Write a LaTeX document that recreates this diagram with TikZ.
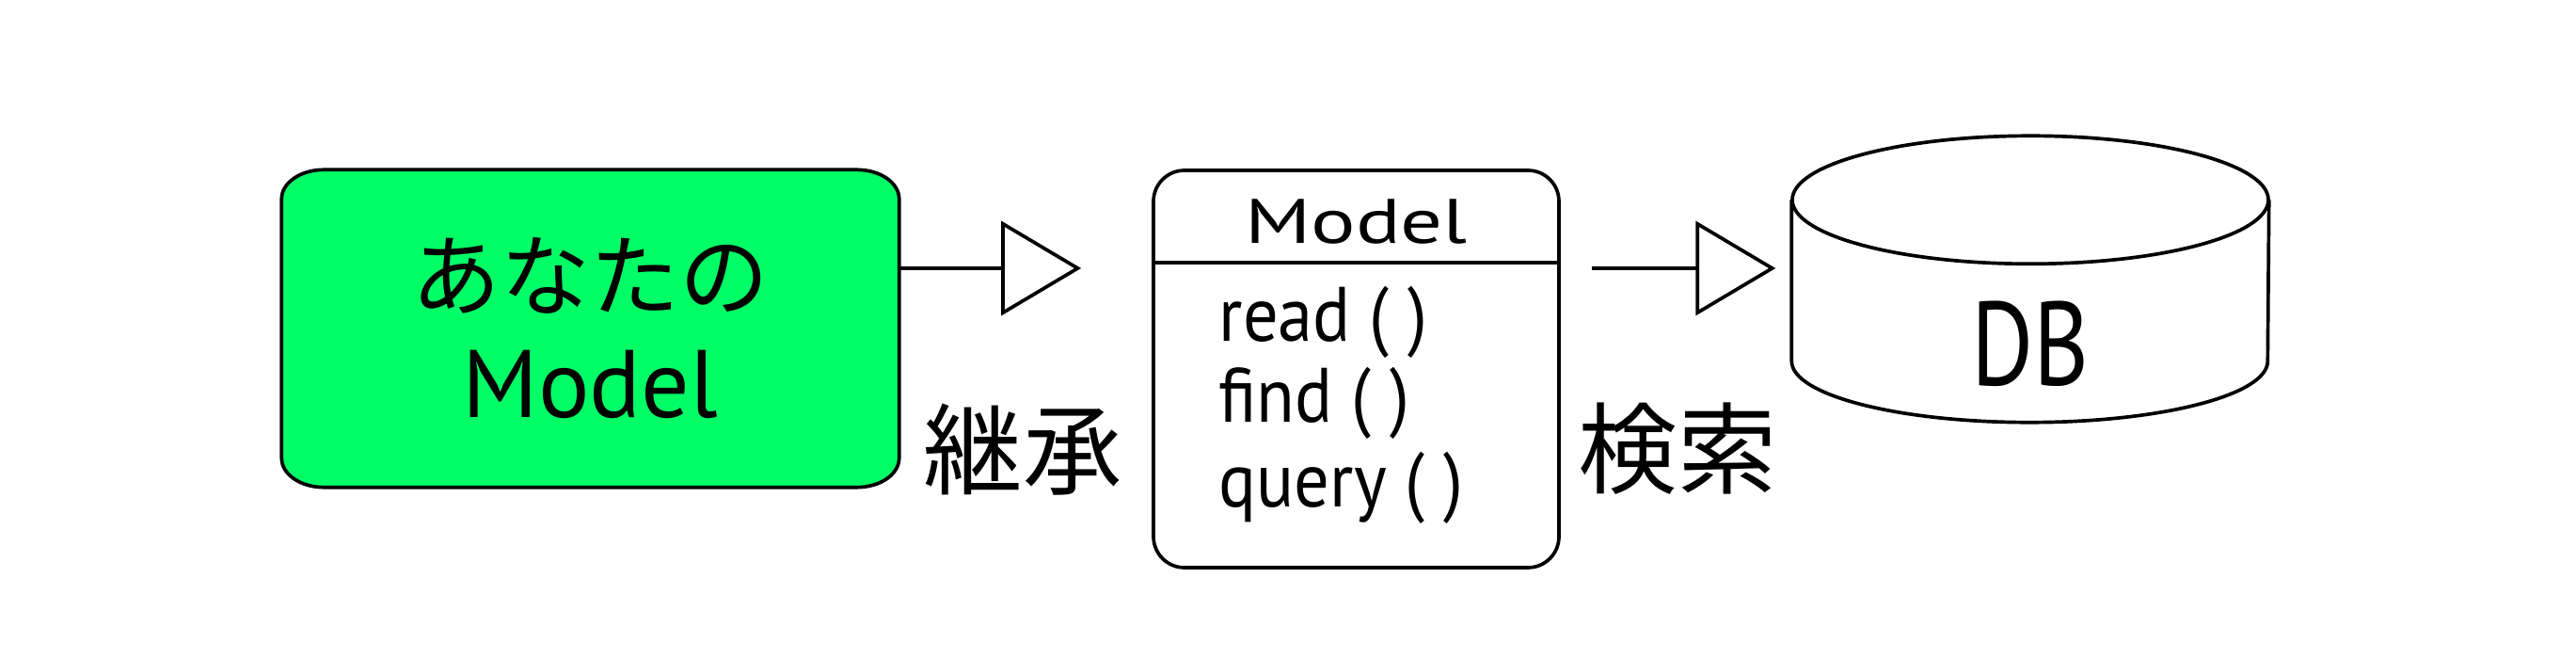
\documentclass[tikz,border=0pt]{standalone}
\usepackage{fontspec}
\setmainfont{PT Sans}
\newfontfamily\jpfont{Noto Sans CJK JP}
\newfontfamily\widefont[FakeStretch=1.33]{PT Sans}
\newfontfamily\methodfont[FakeStretch=0.91]{PT Sans}
\newfontfamily\narrowfont[FakeStretch=0.8]{PT Sans}
\usetikzlibrary{arrows.meta,positioning,calc,backgrounds}
\definecolor{Lime}{HTML}{00FF66}
\definecolor{Ink}{HTML}{000000}
\tikzset{
  outline/.style={draw=Ink,line width=1.05pt},
  frame/.style={inner sep=0pt,align=center},
  openarrow/.style={-{Triangle[open,length=0.85cm,width=1cm]},line width=1.05pt,draw=Ink},
  method/.style={anchor=base west,inner sep=0pt,font=\methodfont\fontsize{23.3pt}{23.3pt}\selectfont},
  jplabel/.style={inner sep=0pt,font=\jpfont\fontsize{30pt}{30pt}\selectfont}
}
\begin{document}
\begin{tikzpicture}
  \begin{scope}[on background layer]
    \fill[white] (0,0) rectangle (27.38,6.98);
  \end{scope}
  \useasboundingbox (0,0) rectangle (27.38,6.98);
  \coordinate (axis) at (0,4.13);

  % your model
  \node[frame,minimum width=6.55cm,minimum height=3.36cm,
        font=\fontsize{29pt}{32.7pt}\selectfont] (yours) at (6.275,3.49)
    {{\jpfont\fontsize{27pt}{27pt}\selectfont あなたの}\\Model};
  \begin{scope}[on background layer]
    \draw[outline,fill=Lime] ($(yours.north west)+(0.45,0)$)
      -- ($(yours.north east)+(-0.45,0)$)
      arc[start angle=90,end angle=0,x radius=0.45,y radius=0.31]
      -- ($(yours.south east)+(0,0.31)$)
      arc[start angle=0,end angle=-90,x radius=0.45,y radius=0.31]
      -- ($(yours.south west)+(0.45,0)$)
      arc[start angle=270,end angle=180,x radius=0.45,y radius=0.31]
      -- ($(yours.north west)+(0,-0.31)$)
      arc[start angle=180,end angle=90,x radius=0.45,y radius=0.31]
      -- cycle;
  \end{scope}

  % base class
  \node[outline,rounded corners=0.33cm,minimum width=4.31cm,
        minimum height=4.22cm] (model) at (14.415,3.06) {};
  \draw[outline] ($(model.north west)+(0,-1.0)$) -- ($(model.north east)+(0,-1.0)$);
  \node[anchor=base,inner sep=0pt,font=\widefont\fontsize{19pt}{19pt}\selectfont]
    (title) at ($(model.north)+(0,-0.79)$) {Model};
  \foreach \m/\y in {read/3.36,find/2.49,query/1.60}
    \node[method] (\m) at (12.95,\y) {\m\ ( )};

  % database
  \node[inner sep=0pt,minimum width=5.06cm,minimum height=3.03cm] (db) at (21.58,4.015) {};
  \draw[outline] ($(db.north west)+(0,-0.68)$) -- ($(db.south west)+(0,0.65)$)
    arc[start angle=180,end angle=360,x radius=2.53,y radius=0.65]
    -- ($(db.north east)+(0,-0.68)$);
  \draw[outline] ($(db.north)+(0,-0.68)$) ellipse[x radius=2.53,y radius=0.68];
  \node[inner sep=0pt,font=\narrowfont\fontsize{36pt}{36pt}\selectfont]
    (dbname) at ($(db.center)+(0,-0.685)$) {DB};

  % connectors
  \draw[openarrow,shorten >=0.75cm] (yours.east |- axis) -- (model.west |- axis);
  \draw[openarrow,shorten <=0.33cm,shorten >=0.17cm] (model.east |- axis) -- (db.west |- axis);
  \node[jplabel] (inherit) at (10.87,2.20) {継承};
  \node[jplabel] (search) at (17.83,2.21) {検索};
\end{tikzpicture}
\end{document}
